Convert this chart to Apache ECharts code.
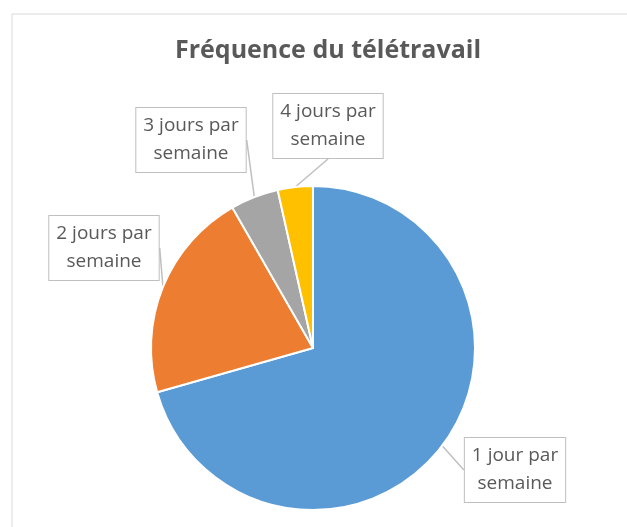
<!DOCTYPE html>
<html>
<head>
<meta charset="utf-8">
<script src="https://cdn.jsdelivr.net/npm/echarts@6/dist/echarts.min.js"></script>
<style>
  html, body { margin: 0; padding: 0; background: #fff; }
  #chart { width: 627px; height: 527px; }
</style>
</head>
<body>
<div id="chart"></div>
<script>
// data (shares in %)
const categories = ['1 jour par\nsemaine', '2 jours par\nsemaine', '3 jours par\nsemaine', '4 jours par\nsemaine'];
const values = [70.6, 21.1, 4.8, 3.5];
const colors = ['#5B9BD5', '#ED7D31', '#A5A5A5', '#FFC000'];

// where each callout box sits (centre of box)
const labelPos = [[515, 470], [104, 248], [191, 140], [328, 126]];

window.addEventListener('load', function () {
    let chart = echarts.init(document.getElementById('chart'));

    let option = {
        animation: false,
        title: {
            text: 'Fréquence du télétravail',
            left: 323,
            top: 33,
            textAlign: 'center',
            textStyle: {
                fontFamily: 'Open Sans',
                fontSize: 25,
                fontWeight: 'bold',
                color: '#595959'
            }
        },
        graphic: [{
            type: 'rect',
            shape: { x: 12, y: 14, width: 700, height: 600 },
            style: { fill: 'none', stroke: '#d9d9d9', lineWidth: 1 },
            silent: true,
            z: -1
        }],
        series: [{
            type: 'pie',
            center: [313, 348],
            radius: 162,
            startAngle: 90,
            clockwise: true,
            data: categories.map(function (c, i) {
                return { name: c, value: values[i], itemStyle: { color: colors[i] } };
            }),
            itemStyle: { borderColor: '#fff', borderWidth: 2 },
            label: {
                show: true,
                position: 'outside',
                formatter: '{b}',
                fontFamily: 'Open Sans',
                fontSize: 19,
                lineHeight: 28,
                color: '#595959',
                backgroundColor: '#fff',
                borderColor: '#bfbfbf',
                borderWidth: 1,
                padding: [4, 7, 4, 7],
                align: 'center'
            },
            labelLine: {
                show: true,
                length: 0,
                length2: 0,
                lineStyle: { color: '#bfbfbf', width: 1.5 }
            },
            labelLayout: function (params) {
                let p = labelPos[params.dataIndex];
                return { x: p[0], y: p[1], align: 'center', verticalAlign: 'middle' };
            },
            emphasis: { disabled: true }
        }]
    };

    chart.setOption(option);
}, false);
</script>
</body>
</html>
